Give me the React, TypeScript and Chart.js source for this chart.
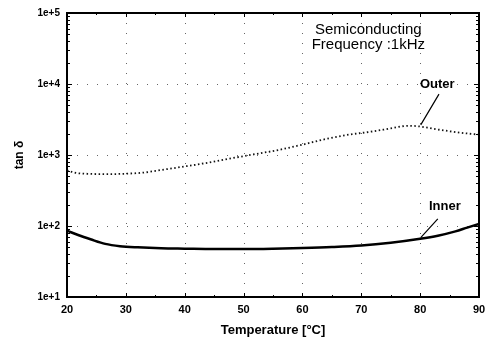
import { useEffect, useRef } from 'react';
import { Chart, registerables } from 'chart.js';

Chart.register(...registerables);

// ---- data ----
const temperatures = [20, 21.5, 24, 27, 30, 33, 36, 40, 44, 48, 52, 56, 60, 64, 68, 72, 75, 78, 80, 82, 85, 88, 90];
const outerTanDelta = [608, 560, 542, 538, 545, 565, 615, 690, 780, 900, 1030, 1180, 1400, 1680, 1940, 2150, 2370, 2580, 2520, 2360, 2160, 2010, 1940];
const innerTemperatures = [20, 22, 24, 26.5, 29, 32, 36, 40, 45, 50, 55, 60, 65, 70, 75, 80, 83, 86, 88, 90];
const innerTanDelta = [86, 74, 65, 56, 52, 50, 48.5, 48, 47.5, 47.5, 48, 49, 50.5, 53, 58, 66, 73, 84, 95, 107];
const xTickValues = [20, 30, 40, 50, 60, 70, 80, 90];
const yDecades = [10, 100, 1000, 10000, 100000];
const titleLines = ['Semiconducting', 'Frequency :1kHz'];
const seriesLabels = ['Outer', 'Inner'];

const FONT = '"Liberation Sans", Arial, Helvetica, sans-serif';

const decorPlugin = {
  id: 'decor',
  beforeDatasetsDraw(chart: any) {
    const { ctx, chartArea, scales } = chart;
    const { left, right, top, bottom } = chartArea;
    const x = scales.x;
    const y = scales.y;
    ctx.save();
    ctx.strokeStyle = '#666';
    ctx.lineWidth = 1;
    ctx.setLineDash([1, 9]);
    xTickValues.slice(1, -1).forEach((v) => {
      const px = Math.round(x.getPixelForValue(v)) + 0.5;
      ctx.beginPath();
      ctx.moveTo(px, top);
      ctx.lineTo(px, bottom);
      ctx.stroke();
    });
    yDecades.slice(1, -1).forEach((v) => {
      const py = Math.round(y.getPixelForValue(v)) + 0.5;
      ctx.beginPath();
      ctx.moveTo(left, py);
      ctx.lineTo(right, py);
      ctx.stroke();
    });
    ctx.restore();
  },
  afterDraw(chart: any) {
    const { ctx, chartArea, scales } = chart;
    const { left, right, top, bottom } = chartArea;
    const x = scales.x;
    const y = scales.y;
    ctx.save();
    ctx.setLineDash([]);
    ctx.strokeStyle = '#000';
    // inward ticks
    ctx.lineWidth = 1;
    for (let t = 20; t <= 90; t += 5) {
      const px = Math.round(x.getPixelForValue(t)) + 0.5;
      const len = t % 10 === 0 ? 4 : 2;
      ctx.beginPath();
      ctx.moveTo(px, bottom);
      ctx.lineTo(px, bottom - len);
      ctx.moveTo(px, top);
      ctx.lineTo(px, top + len);
      ctx.stroke();
    }
    for (let d = 1; d < 5; d++) {
      for (let m = 1; m <= 9; m++) {
        const v = m * Math.pow(10, d);
        const py = Math.round(y.getPixelForValue(v)) + 0.5;
        const len = m === 1 ? 5 : 3;
        ctx.beginPath();
        ctx.moveTo(left, py);
        ctx.lineTo(left + len, py);
        ctx.moveTo(right, py);
        ctx.lineTo(right - len, py);
        ctx.stroke();
      }
    }
    // frame
    ctx.lineWidth = 2;
    ctx.strokeRect(left, top, right - left, bottom - top);

    // annotations
    ctx.fillStyle = '#000';
    ctx.textAlign = 'center';
    ctx.textBaseline = 'middle';
    ctx.font = `15px ${FONT}`;
    ctx.fillText(titleLines[0], x.getPixelForValue(71.2), y.getPixelForValue(58000));
    ctx.fillText(titleLines[1], x.getPixelForValue(71.2), y.getPixelForValue(35800));
    ctx.font = `bold 13px ${FONT}`;
    ctx.fillText(seriesLabels[0], x.getPixelForValue(82.9), y.getPixelForValue(9900));
    ctx.fillText(seriesLabels[1], x.getPixelForValue(84.2), y.getPixelForValue(191));
    ctx.lineWidth = 1.2;
    ctx.beginPath();
    ctx.moveTo(x.getPixelForValue(83.2), y.getPixelForValue(7200));
    ctx.lineTo(x.getPixelForValue(80.1), y.getPixelForValue(2660));
    ctx.moveTo(x.getPixelForValue(83.0), y.getPixelForValue(126));
    ctx.lineTo(x.getPixelForValue(80.1), y.getPixelForValue(68.5));
    ctx.stroke();
    ctx.restore();
  },
};

export default function App() {
  const ref = useRef<HTMLCanvasElement | null>(null);
  useEffect(() => {
    if (!ref.current) return;
    const chart = new Chart(ref.current, {
      type: 'line',
      data: {
        datasets: [
          {
            label: seriesLabels[0],
            data: temperatures.map((t, i) => ({ x: t, y: outerTanDelta[i] })),
            borderColor: '#111',
            borderWidth: 1.8,
            borderDash: [1.5, 2.5],
            pointRadius: 0,
            cubicInterpolationMode: 'monotone',
            fill: false,
          },
          {
            label: seriesLabels[1],
            data: innerTemperatures.map((t, i) => ({ x: t, y: innerTanDelta[i] })),
            borderColor: '#000',
            borderWidth: 2.5,
            pointRadius: 0,
            cubicInterpolationMode: 'monotone',
            fill: false,
          },
        ],
      },
      options: {
        animation: false,
        responsive: false,
        maintainAspectRatio: false,
        layout: { padding: { top: 10, right: 17, left: 0, bottom: 0 } },
        plugins: { legend: { display: false }, tooltip: { enabled: false } },
        scales: {
          x: {
            type: 'linear',
            min: 20,
            max: 90,
            afterBuildTicks: (s: any) => {
              s.ticks = xTickValues.map((v) => ({ value: v }));
            },
            afterFit: (s: any) => {
              s.height = 52;
            },
            ticks: {
              color: '#000',
              padding: 6,
              maxRotation: 0,
              autoSkip: false,
              font: { family: FONT, size: 11, weight: 'bold' },
            },
            grid: { display: false, drawTicks: false },
            border: { display: false },
            title: {
              display: true,
              text: 'Temperature [°C]',
              color: '#000',
              font: { family: FONT, size: 13, weight: 'bold' },
              padding: { top: 0, bottom: 11 },
            },
          },
          y: {
            type: 'logarithmic',
            min: 10,
            max: 100000,
            afterBuildTicks: (s: any) => {
              s.ticks = yDecades.map((v) => ({ value: v }));
            },
            afterFit: (s: any) => {
              s.width = 67;
            },
            ticks: {
              color: '#000',
              padding: 7,
              autoSkip: false,
              font: { family: FONT, size: 10, weight: 'bold' },
              callback: (v: any) => '1e+' + Math.round(Math.log10(Number(v))),
            },
            grid: { display: false, drawTicks: false },
            border: { display: false },
            title: {
              display: true,
              text: 'tan δ',
              color: '#000',
              font: { family: FONT, size: 12, weight: 'bold' },
              padding: { top: 12, bottom: 0 },
            },
          },
        },
      },
      plugins: [decorPlugin],
    } as any);
    return () => chart.destroy();
  }, []);
  return (
    <div style={{ position: 'absolute', left: 0, top: 0, width: 496, height: 349, background: '#fff' }}>
      <canvas ref={ref} width={496} height={349} />
    </div>
  );
}
